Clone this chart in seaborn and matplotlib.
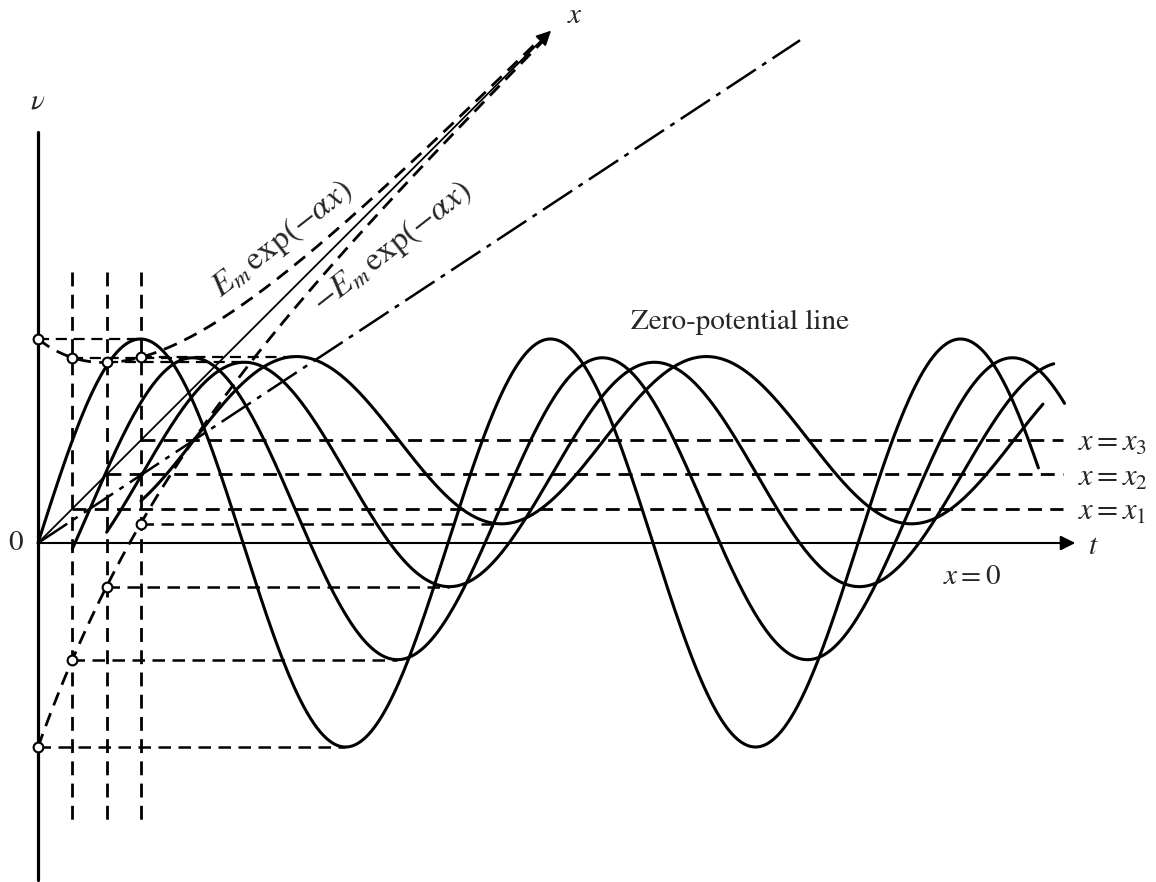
import numpy as np
import pandas as pd
import matplotlib
matplotlib.use("Agg")
import matplotlib.pyplot as plt
import seaborn as sns

# sections of the line drawn along the oblique x axis (x in section units)
section_x = [0, 1, 2, 3]
section_names = ["$x = 0$", "$x = x_1$", "$x = x_2$", "$x = x_3$"]
amplitude = [1.0, 0.74, 0.55, 0.41]   # Em exp(-alpha x), in units of Em
t_end = [2.44, 2.42, 2.31, 2.20]      # where each trace stops (periods)
alpha = 0.30                          # attenuation per section unit
lag = 0.043                           # phase lag per section unit (periods)
x_axis_end = 14.95
zero_line_end = 14.67
envelope_end = 14.7
t_axis_end = 2.53
baseline_end = 2.50

# oblique projection: one x unit moves (t, v) by this much
skew_t = 0.0837
skew_v = 0.168

sns.set_style("white")
plt.rcParams["mathtext.fontset"] = "stix"
plt.rcParams["font.family"] = ["STIXGeneral", "DejaVu Serif"]

fig = plt.figure(figsize=(11.56, 8.82), dpi=100)
ax = fig.add_axes([0, 0, 1, 1])
ax.set_xlim(-38 / 410, 1118 / 410)
ax.set_ylim(-339 / 204, 543 / 204)
ax.set_axis_off()

dash = (0, (5, 3))

# waves v(x, t) = Em exp(-ax) sin(wt - bx) on each section
frames = []
for x, a, te, name in zip(section_x, amplitude, t_end, section_names):
    t = np.linspace(0, te, 600)
    v = a * np.sin(2 * np.pi * (t - lag * x))
    frames.append(pd.DataFrame({"t": t + x * skew_t, "v": v + x * skew_v,
                                "section": name}))
waves = pd.concat(frames, ignore_index=True)
sns.lineplot(data=waves, x="t", y="v", hue="section", palette=["black"] * 4,
             sort=False, estimator=None, legend=False, lw=2.2, ax=ax)

# envelopes +/- Em exp(-alpha x)
xe = np.linspace(0, envelope_end, 300)
for sign in (1, -1):
    env = pd.DataFrame({"t": xe * skew_t,
                        "v": xe * skew_v + sign * np.exp(-alpha * xe)})
    sns.lineplot(data=env, x="t", y="v", sort=False, estimator=None,
                 color="black", lw=2.0, ax=ax)
    ax.lines[-1].set_linestyle(dash)

# zero-potential line
xz = np.array([0, zero_line_end])
ax.plot(xz * (skew_t + lag), xz * skew_v, color="black", lw=1.8,
        linestyle=(0, (14, 3, 2, 3)))

# axes: v (vertical), t (horizontal), x (oblique)
ax.plot([0, 0], [-1.652, 2.015], color="black", lw=2.3)
ax.annotate("", xy=(t_axis_end, 0), xytext=(0, 0),
            arrowprops=dict(arrowstyle="-|>", color="black", lw=1.5,
                            mutation_scale=22, shrinkA=0, shrinkB=0))
ax.annotate("", xy=(x_axis_end * skew_t, x_axis_end * skew_v), xytext=(0, 0),
            arrowprops=dict(arrowstyle="-|>", color="black", lw=1.3,
                            mutation_scale=22, shrinkA=0, shrinkB=0))

# construction lines for each section
for x, a in zip(section_x, amplitude):
    t0, v0 = x * skew_t, x * skew_v
    t_peak = t0 + lag * x + 0.25
    t_trough = t0 + lag * x + 0.75
    ax.plot([t0, t_peak], [v0 + a, v0 + a], color="black", lw=1.6, linestyle=dash)
    ax.plot([t0, t_trough], [v0 - a, v0 - a], color="black", lw=1.8, linestyle=dash)
    if x > 0:
        ax.plot([t0, t0], [1.328, -1.373], color="black", lw=2.0, linestyle=dash)
        ax.plot([t0, baseline_end], [v0, v0], color="black", lw=2.0, linestyle=dash)
    ax.plot([t0, t0], [v0 + a, v0 - a], linestyle="none", marker="o", ms=7,
            mfc="white", mec="black", mew=1.5)

# labels
fs = 21
for x, name in zip(section_x[1:], section_names[1:]):
    ax.text(2.537, x * skew_v - 0.02, name, fontsize=22, ha="left", va="center")
ax.text(2.278, -0.17, section_names[0], fontsize=fs, ha="center", va="center")
ax.text(-0.055, 0, "0", fontsize=fs, ha="center", va="center")
ax.text(0, 2.16, r"$\nu$", fontsize=fs, ha="center", va="center")
ax.text(t_axis_end + 0.03, -0.02, r"$t$", fontsize=fs, ha="left", va="center")
ax.text(1.29, 2.58, r"$x$", fontsize=fs, ha="left", va="center")
ax.text(1.712, 1.083, "Zero-potential line", fontsize=fs, ha="center", va="center")
ax.text(0.595, 1.49, r"$E_m\,\exp(-\alpha x)$", fontsize=24, rotation=38,
        ha="center", va="center", rotation_mode="anchor")
ax.text(0.865, 1.45, r"$-E_m\,\exp(-\alpha x)$", fontsize=24, rotation=38,
        ha="center", va="center", rotation_mode="anchor")

fig.savefig("out.png", dpi=100, facecolor="white")
